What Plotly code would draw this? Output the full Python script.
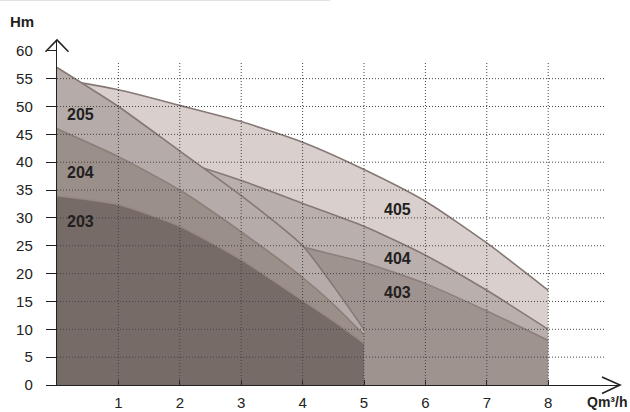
import plotly.graph_objects as go

# ---- data ----
q_40x = [0, 1, 2, 3, 4, 5, 6, 7, 8]
h_405 = [55, 53, 50.2, 47.3, 43.6, 38.7, 33, 25.5, 17]
h_404 = [45, 43, 40.2, 36.7, 32.6, 28.5, 23.3, 17, 10]
h_403 = [35, 33.5, 31, 28, 24.8, 22, 18.2, 13.3, 8]

q_20x = [0, 1, 2, 3, 4, 4.5, 5]
h_205 = [57, 50, 42, 34, 25, 17.8, 10]
h_204 = [46, 41, 35, 27.5, 19.3, 14.5, 9]
h_203 = [34, 32.4, 28.5, 22.5, 15.2, 11.5, 7.5]

x_ticks = [1, 2, 3, 4, 5, 6, 7, 8]
y_ticks = [0, 5, 10, 15, 20, 25, 30, 35, 40, 45, 50, 55, 60]

series = [
    ("405", q_40x, h_405, "#d9d0cd", "#857874", 5.54, 31.5),
    ("404", q_40x, h_404, "#b9afac", "#857874", 5.54, 22.7),
    ("403", q_40x, h_403, "#9f938f", "#8d807c", 5.54, 16.6),
    ("205", q_20x, h_205, "#b5aba8", "#857874", 0.38, 48.5),
    ("204", q_20x, h_204, "#9b8f8a", "#8c7e79", 0.38, 38.1),
    ("203", q_20x, h_203, "#766b66", "#978984", 0.38, 29.3),
]

# ---- layout geometry (pixels) ----
W, H = 630, 412
PL, PR, PT, PB = 57, 620, 40, 385
XS, YS = 61.4, 5.57
x_range = [0, (PR - PL) / XS]
y_range = [0, (PB - PT) / YS]


def px(x):
    return (x - PL) / (PR - PL)


def py(y):
    return (PB - y) / (PB - PT)


fig = go.Figure()
for name, qs, hs, fillc, linec, lx, ly in series:
    fig.add_trace(go.Scatter(
        x=qs, y=hs, mode="lines", fill="tozeroy", fillcolor=fillc,
        line=dict(color=linec, width=1.6, shape="spline", smoothing=0.6),
        hoverinfo="skip", showlegend=False, name=name))

shapes = []
# dotted grid above fills
for xv in x_ticks:
    shapes.append(dict(type="line", xref="x", yref="y", x0=xv, x1=xv, y0=0, y1=58,
                       line=dict(color="#444444", width=1, dash="1px,2px"), layer="above"))
for yv in y_ticks[1:-1]:
    shapes.append(dict(type="line", xref="x", yref="y", x0=0, x1=8.94, y0=yv, y1=yv,
                       line=dict(color="#444444", width=1, dash="1px,2px"), layer="above"))
# arrow heads
shapes.append(dict(type="path", xref="paper", yref="paper",
                   path=f"M {px(45.5)},{py(51.7)} L {px(57)},{py(40)} L {px(68.5)},{py(51.7)}",
                   line=dict(color="#222222", width=1.6), layer="above"))
shapes.append(dict(type="path", xref="paper", yref="paper",
                   path=f"M {px(602)},{py(377)} L {px(620)},{py(385)} L {px(602)},{py(393.5)}",
                   line=dict(color="#222222", width=1.6), layer="above"))
# faint top rule
shapes.append(dict(type="line", xref="paper", yref="paper", x0=px(0), x1=px(330),
                   y0=py(0.5), y1=py(0.5), line=dict(color="#e2e2e2", width=1)))

annotations = []
for name, qs, hs, fillc, linec, lx, ly in series:
    annotations.append(dict(x=lx, y=ly, xref="x", yref="y", text=f"<b>{name}</b>",
                            showarrow=False, xanchor="center", yanchor="middle",
                            font=dict(family="Liberation Sans", size=16, color="#231f20")))
annotations.append(dict(x=px(22), y=py(21), xref="paper", yref="paper", text="<b>Hm</b>",
                        showarrow=False, xanchor="center", yanchor="middle",
                        font=dict(family="Liberation Sans", size=15, color="#231f20")))
annotations.append(dict(x=px(607), y=py(402), xref="paper", yref="paper", text="<b>Qm³/h</b>",
                        showarrow=False, xanchor="center", yanchor="middle",
                        font=dict(family="Liberation Sans", size=14, color="#231f20")))

fig.update_layout(
    width=W, height=H,
    margin=dict(l=PL, r=W - PR, t=PT, b=H - PB, autoexpand=False),
    paper_bgcolor="white", plot_bgcolor="white",
    shapes=shapes, annotations=annotations,
    xaxis=dict(range=x_range, tickvals=x_ticks, ticktext=[str(v) for v in x_ticks],
               automargin=False,
               showgrid=False, zeroline=False, showline=True, linecolor="#222222", linewidth=1.4,
               ticks="inside", ticklen=5, tickcolor="#222222", tickwidth=1,
               tickfont=dict(family="Liberation Sans", size=15, color="#222222"),
               ticklabelstandoff=4, layer="above traces", fixedrange=True),
    yaxis=dict(range=y_range, tickvals=y_ticks, ticktext=[str(v) for v in y_ticks],
               automargin=False,
               showgrid=False, zeroline=False, showline=True, linecolor="#222222", linewidth=1.4,
               ticks="outside", ticklen=10, tickcolor="#222222", tickwidth=1,
               tickfont=dict(family="Liberation Sans", size=15, color="#222222"),
               ticklabelstandoff=10, layer="above traces", fixedrange=True),
)

fig.write_html("out.html", config={"displayModeBar": False},
               post_script="document.body.style.margin='0';document.body.style.overflow='hidden';")
